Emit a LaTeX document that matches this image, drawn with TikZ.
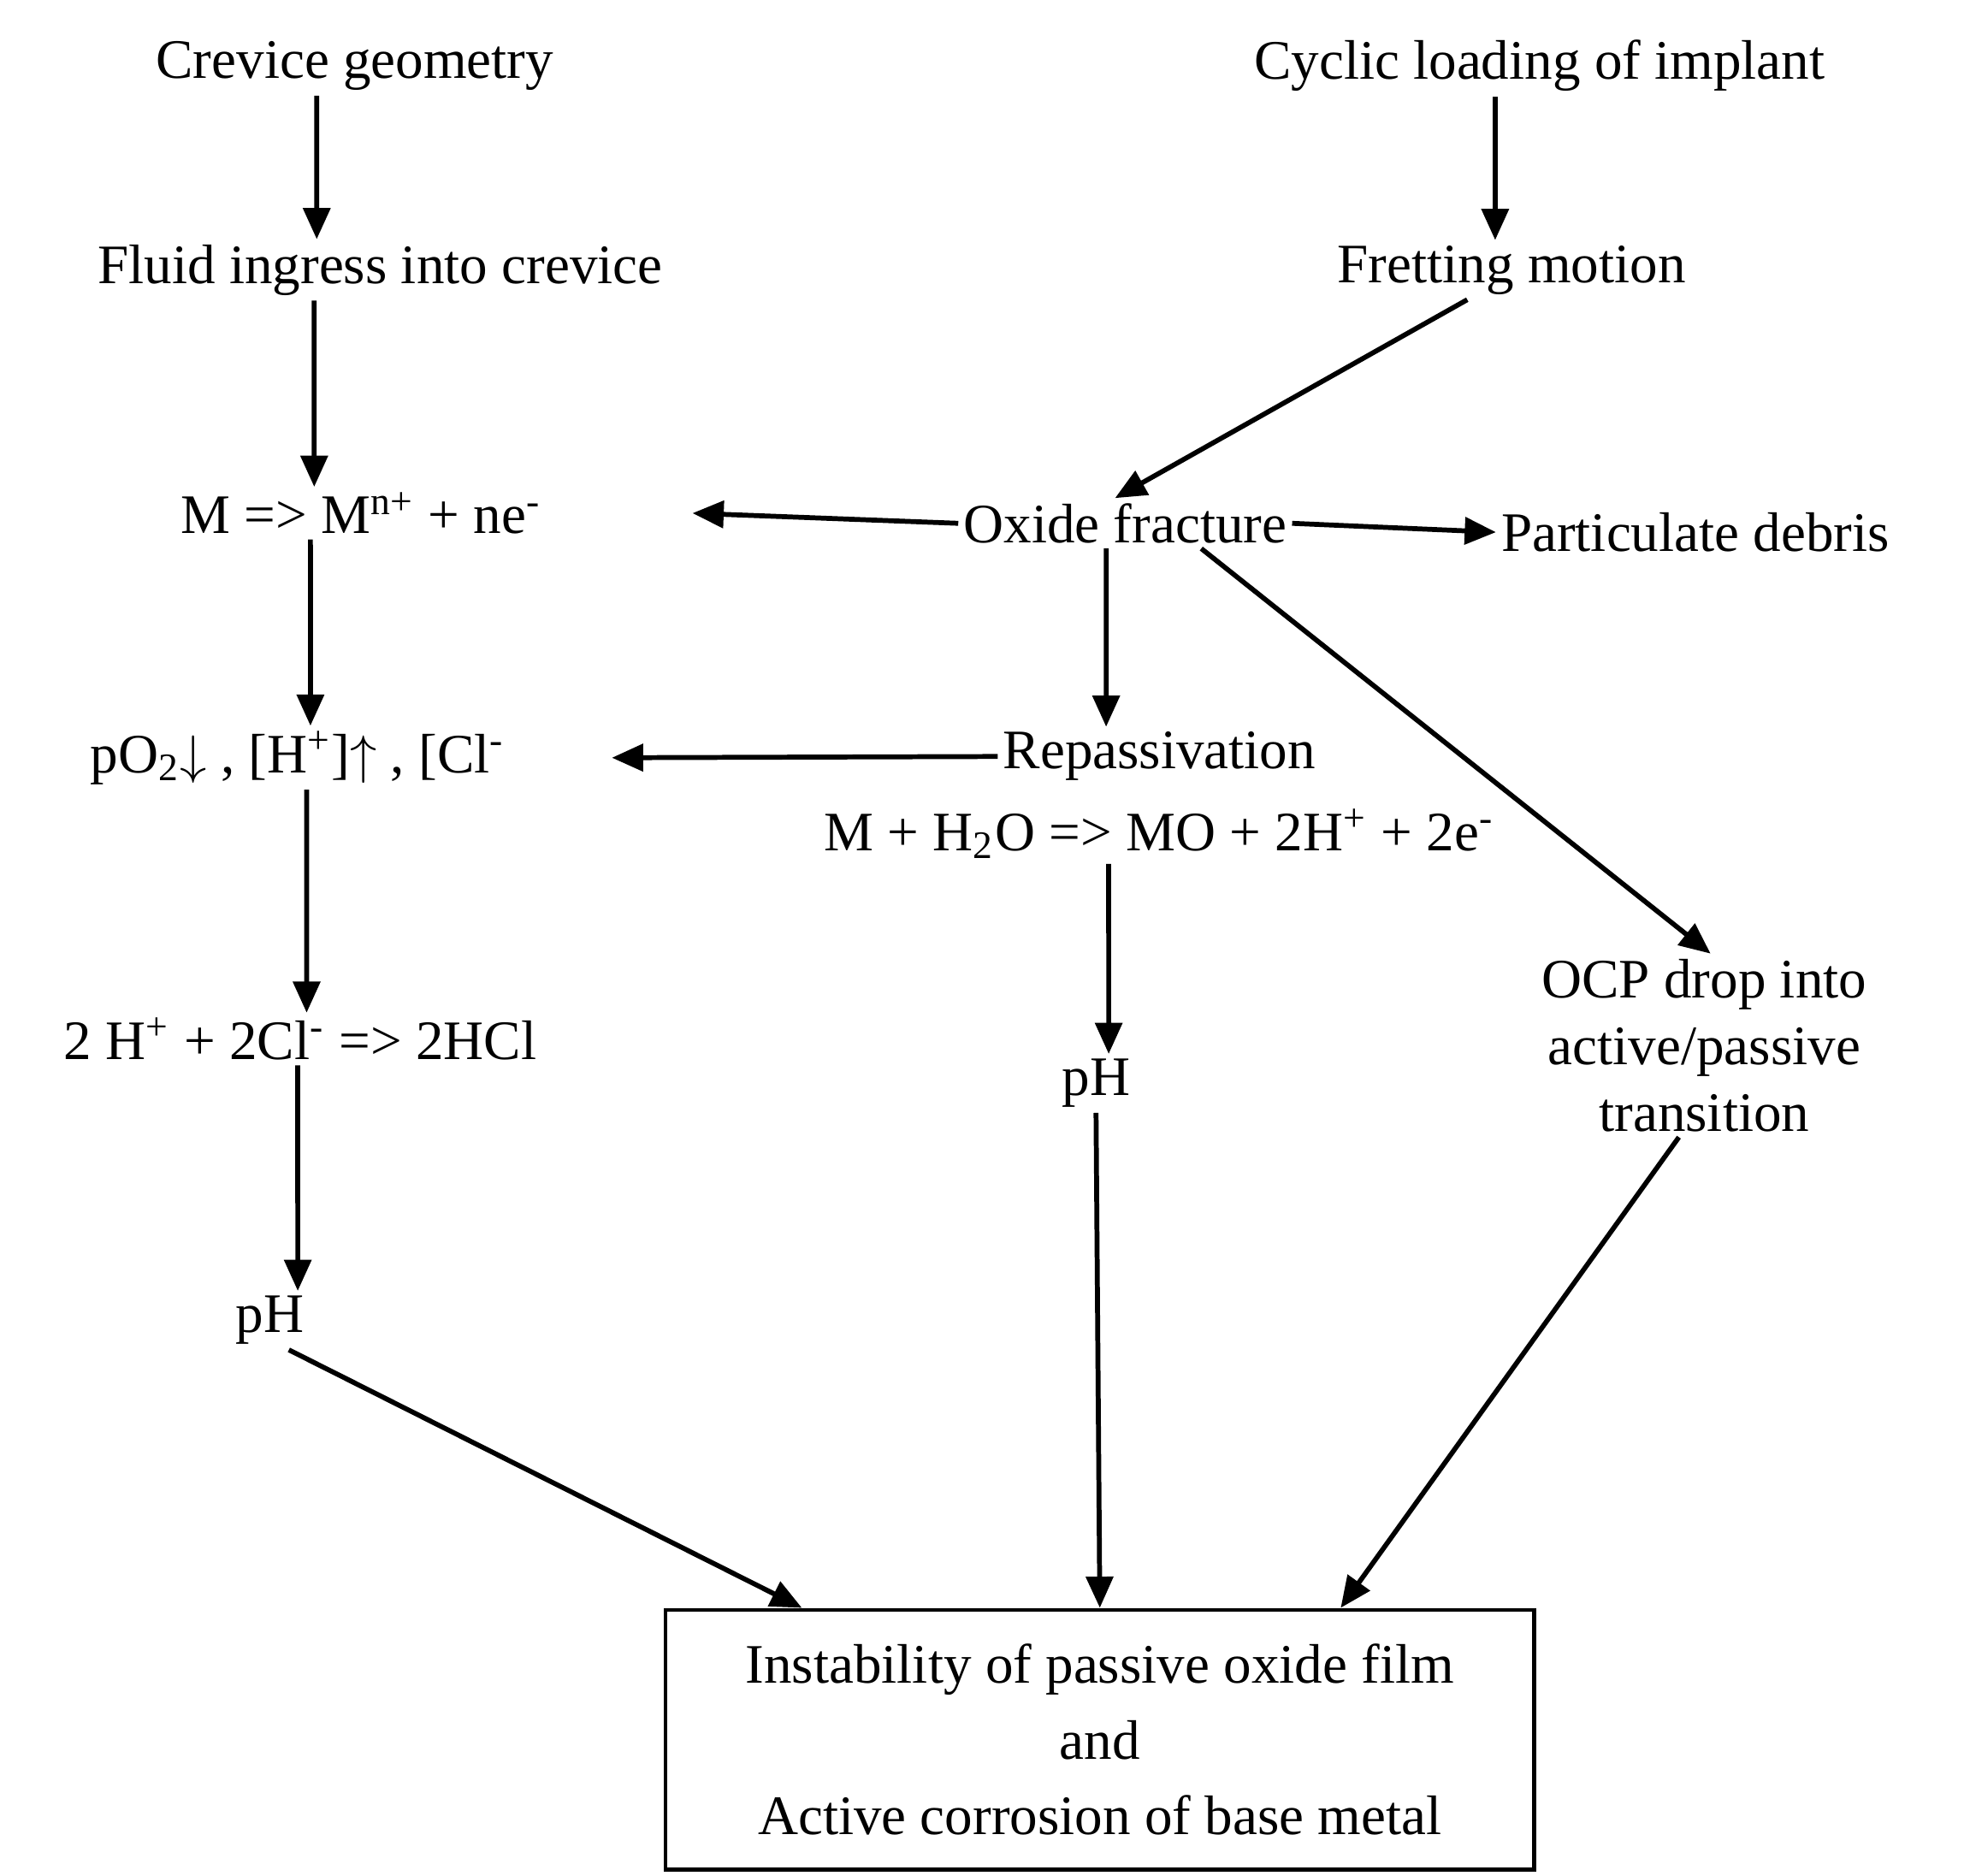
\documentclass[tikz,border=0pt]{standalone}
\usepackage{fontspec}
\setmainfont{Liberation Serif}
\usetikzlibrary{arrows.meta,positioning}
\tikzset{
  lbl/.style={inner sep=1pt, font=\fontsize{12.5}{15}\selectfont},
  flow/.style={-{Triangle[length=7pt,width=6pt]}, line width=1.1pt}
}
\begin{document}
\begin{tikzpicture}[x=0.01cm,y=-0.01cm]
\useasboundingbox (0,0) rectangle (1550,1480);
% left column
\node[lbl] (crev) at (280,52) {Crevice geometry};
\node[lbl] (fluid) at (300,213) {Fluid ingress into crevice};
\node[lbl] (mrx) at (285,405) {M => M\textsuperscript{n+} + ne\textsuperscript{-}};
\node[lbl] (po2) at (235,598) {pO\textsubscript{2}$\downarrow$ , [H\textsuperscript{+}]$\uparrow$ , [Cl\textsuperscript{-}};
\node[lbl] (hcl) at (237,820) {2 H\textsuperscript{+} + 2Cl\textsuperscript{-} => 2HCl};
\node[lbl] (ph1) at (213,1042) {pH};
% right column
\node[lbl] (cyc) at (1215,52) {Cyclic loading of implant};
\node[lbl] (fret) at (1193,213) {Fretting motion};
\node[lbl] (oxf) at (888,413) {Oxide fracture};
\node[lbl] (deb) at (1338,420) {Particulate debris};
\node[lbl] (rep) at (915,597) {Repassivation};
\node[lbl] (mrx2) at (915,658) {M + H\textsubscript{2}O => MO + 2H\textsuperscript{+} + 2e\textsuperscript{-}};
\node[lbl] (ph2) at (865,855) {pH};
\node[lbl, align=center] (ocp) at (1345,825) {OCP drop into\\active/passive\\transition};
% result box
\node[lbl, draw, line width=0.9pt, align=center, minimum width=6.85cm, minimum height=2.05cm] (box) at (868,1373)
  {Instability of passive oxide film\\[2pt]and\\[2pt]Active corrosion of base metal};
% arrows
\draw[flow] ([xshift=-0.3cm]crev.south) -- ([xshift=-0.5cm]fluid.north);
\draw[flow] ([xshift=-0.52cm]fluid.south) -- ([xshift=-0.37cm]mrx.north);
\draw[flow] ([xshift=-0.4cm]mrx.south) -- ([xshift=0.1cm]po2.north);
\draw[flow] ([xshift=0.07cm]po2.south) -- ([xshift=0.05cm]hcl.north);
\draw[flow] ([xshift=-0.02cm]hcl.south) -- ([xshift=0.22cm]ph1.north);
\draw[flow] ([xshift=-0.35cm]cyc.south) -- ([xshift=-0.13cm]fret.north);
\draw[flow] ([xshift=-0.35cm]fret.south) -- ([xshift=-0.08cm]oxf.north);
\draw[flow] (oxf.west) -- ([xshift=1.15cm]mrx.east);
\draw[flow] (oxf.east) -- (deb.west);
\draw[flow] ([xshift=-0.15cm]oxf.south) -- ([xshift=-0.42cm]rep.north);
\draw[flow] ([xshift=0.6cm]oxf.south) -- ([xshift=0.05cm]ocp.north);
\draw[flow] (rep.west) -- ([xshift=0.8cm]po2.east);
\draw[flow] ([xshift=-0.4cm]mrx2.south) -- ([xshift=0.1cm]ph2.north);
\draw[flow] (ph2.south) -- (box.north);
\draw[flow] ([xshift=0.15cm]ph1.south) -- ([xshift=-2.35cm]box.north);
\draw[flow] ([xshift=-0.2cm]ocp.south) -- ([xshift=1.9cm]box.north);
\end{tikzpicture}
\end{document}
